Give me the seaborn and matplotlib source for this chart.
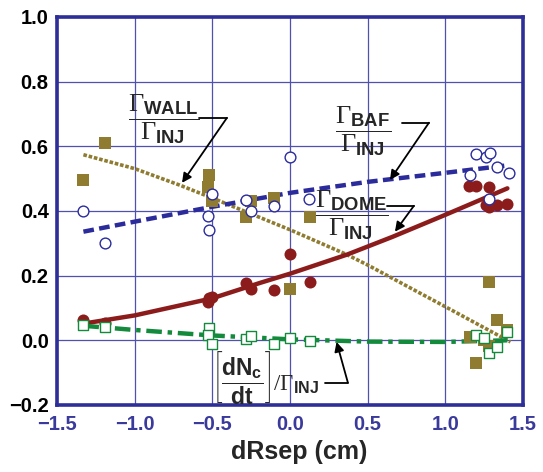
import numpy as np
import matplotlib
matplotlib.use("Agg")
import matplotlib.pyplot as plt
import seaborn as sns

# scatter data
wall_x = [-1.33, -1.19, -0.52, -0.53, -0.50, -0.28, -0.25, -0.10, 0.00, 0.13, 1.28, 1.33, 1.40, 1.16, 1.25, 1.28, 1.20]
wall_y = [0.496, 0.61, 0.51, 0.475, 0.43, 0.38, 0.43, 0.44, 0.16, 0.38, 0.18, 0.063, 0.033, 0.01, 0.0, -0.017, -0.07]

baf_x = [-1.33, -1.19, -0.50, -0.53, -0.52, -0.28, -0.25, -0.10, 0.00, 0.12, 1.20, 1.26, 1.29, 1.16, 1.33, 1.41, 1.28]
baf_y = [0.40, 0.30, 0.453, 0.385, 0.34, 0.434, 0.40, 0.416, 0.567, 0.437, 0.577, 0.567, 0.58, 0.51, 0.537, 0.517, 0.437]

dome_x = [-1.33, -1.19, -0.52, -0.53, -0.50, -0.28, -0.25, -0.10, 0.00, 0.13, 1.15, 1.20, 1.28, 1.26, 1.28, 1.33, 1.40]
dome_y = [0.062, 0.054, 0.13, 0.117, 0.135, 0.178, 0.16, 0.156, 0.267, 0.18, 0.478, 0.478, 0.474, 0.42, 0.413, 0.42, 0.422]

core_x = [-1.33, -1.19, -0.52, -0.53, -0.50, -0.28, -0.25, -0.10, 0.00, 0.13, 1.20, 1.25, 1.28, 1.33, 1.40]
core_y = [0.048, 0.042, 0.039, 0.017, -0.011, 0.005, 0.014, -0.011, 0.008, -0.001, 0.016, 0.007, -0.04, -0.02, 0.026]

# fitted curves, read at a few points
wall_fit_x = [-1.33, -1.0, -0.71, -0.5, 0.0, 0.367, 0.5, 1.0, 1.42]
wall_fit_y = [0.574, 0.531, 0.48, 0.44, 0.342, 0.265, 0.233, 0.104, -0.005]

baf_fit_x = [-1.33, -1.0, -0.5, 0.0, 0.5, 1.0, 1.38]
baf_fit_y = [0.336, 0.367, 0.413, 0.456, 0.49, 0.518, 0.54]

dome_fit_x = [-1.30, -1.0, -0.5, -0.19, 0.0, 0.367, 0.66, 1.0, 1.40]
dome_fit_y = [0.054, 0.077, 0.13, 0.178, 0.206, 0.265, 0.32, 0.388, 0.47]

core_fit_x = [-1.33, -1.0, -0.5, 0.0, 0.5, 1.0, 1.4]
core_fit_y = [0.045, 0.032, 0.015, 0.003, -0.004, -0.005, 0.0]

x_ticks = [-1.5, -1.0, -0.5, 0.0, 0.5, 1.0, 1.5]
y_ticks = [-0.2, 0.0, 0.2, 0.4, 0.6, 0.8, 1.0]

OLIVE = "#8f7c30"
RED = "#8c1c1c"
BLUE = "#2b2b9c"
GREEN = "#138a3c"
FRAME = "#2e2e99"
GRID = "#5050b0"

sns.set_style("white")
plt.rcParams["font.family"] = ["Liberation Sans", "DejaVu Sans"]
plt.rcParams["mathtext.fontset"] = "custom"
plt.rcParams["mathtext.rm"] = "Liberation Serif"
plt.rcParams["mathtext.bf"] = "Liberation Sans:bold"
plt.rcParams["mathtext.it"] = "Liberation Serif:italic"

fig = plt.figure(figsize=(5.43, 4.72), dpi=100)
ax = fig.add_axes([0.105, 0.142, 0.858, 0.822])

# fit lines
sns.lineplot(x=wall_fit_x, y=wall_fit_y, ax=ax, color=OLIVE, lw=2.6,
             linestyle=(0, (1.0, 0.5)), sort=False, estimator=None, zorder=3)
sns.lineplot(x=baf_fit_x, y=baf_fit_y, ax=ax, color=BLUE, lw=3.2,
             linestyle=(0, (2.4, 1.2)), sort=False, estimator=None, zorder=3)
sns.lineplot(x=dome_fit_x, y=dome_fit_y, ax=ax, color=RED, lw=3.2,
             linestyle="-", sort=False, estimator=None, zorder=3)
sns.lineplot(x=core_fit_x, y=core_fit_y, ax=ax, color=GREEN, lw=3.2,
             linestyle=(0, (3.5, 1.3, 1.0, 1.3)), sort=False, estimator=None, zorder=3)

# data points
sns.scatterplot(x=dome_x, y=dome_y, ax=ax, marker="o", s=75, color=RED,
                edgecolor=RED, linewidth=0, zorder=4)
sns.scatterplot(x=wall_x, y=wall_y, ax=ax, marker="s", s=75, color=OLIVE,
                edgecolor=OLIVE, linewidth=0, zorder=4)
ax.scatter(baf_x, baf_y, marker="o", s=60, facecolors="white",
           edgecolors=BLUE, linewidths=1.0, zorder=5)
ax.scatter(core_x, core_y, marker="s", s=60, facecolors="white",
           edgecolors=GREEN, linewidths=1.0, zorder=5)

ax.set_xlim(-1.5, 1.5)
ax.set_ylim(-0.2, 1.0)
ax.set_xticks(x_ticks)
ax.set_yticks(y_ticks)
ax.set_xticklabels(["\u22121.5", "\u22121.0", "\u22120.5", "0.0", "0.5", "1.0", "1.5"])
ax.set_yticklabels(["\u22120.2", "0.0", "0.2", "0.4", "0.6", "0.8", "1.0"])
ax.tick_params(axis="both", length=0, labelsize=14.5)
ax.tick_params(axis="x", labelcolor="#3a3a9c", pad=7)
ax.tick_params(axis="y", labelcolor="black", pad=6)
for lab in ax.get_xticklabels() + ax.get_yticklabels():
    lab.set_fontweight("bold")

ax.grid(True, color=GRID, lw=0.9)
ax.set_axisbelow(True)
for sp in ax.spines.values():
    sp.set_color(FRAME)
    sp.set_linewidth(2.6)

ax.set_xlabel("dRsep (cm)", fontsize=18, fontweight="bold")
ax.xaxis.set_label_coords(0.52, -0.09)
ax.set_ylabel("")

# labels with leader arrows
arrow = dict(arrowstyle="-|>", color="black", lw=1.3, mutation_scale=14,
             shrinkA=0, shrinkB=0)


def leader(text_xy, label, x0, x1, yh, tip, size=19, ha="center"):
    ax.text(text_xy[0], text_xy[1], label, fontsize=size, ha=ha,
            va="center", zorder=6)
    ax.plot([x0, x1], [yh, yh], color="black", lw=1.3, zorder=6)
    ax.annotate("", xy=tip, xytext=(x1, yh), arrowprops=arrow, zorder=6)


leader((-0.81, 0.684), r"$\dfrac{\Gamma_{\mathbf{WALL}}}{\Gamma_{\mathbf{INJ}}}$",
       -0.586, -0.406, 0.688, (-0.695, 0.487))
leader((0.47, 0.646), r"$\dfrac{\Gamma_{\mathbf{BAF}}}{\Gamma_{\mathbf{INJ}}}$",
       0.721, 0.895, 0.673, (0.644, 0.496))
leader((0.40, 0.386), r"$\dfrac{\Gamma_{\mathbf{DOME}}}{\Gamma_{\mathbf{INJ}}}$",
       0.625, 0.798, 0.416, (0.676, 0.336))
leader((-0.50, -0.115),
       r"$\left[\dfrac{\mathbf{dN}_{\mathbf{c}}}{\mathbf{dt}}\right]/\Gamma_{\mathbf{INJ}}$",
       0.225, 0.373, -0.131, (0.30, -0.005), size=16.5, ha="left")

fig.savefig("out.png", dpi=100, facecolor="white")
